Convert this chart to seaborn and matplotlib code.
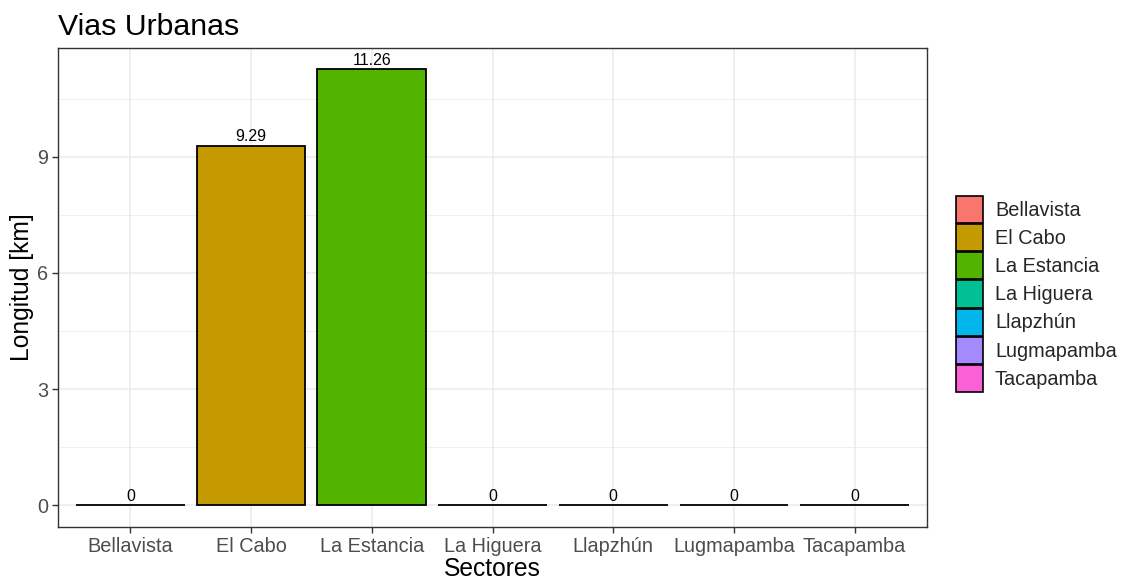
import matplotlib
matplotlib.use("Agg")
import matplotlib.pyplot as plt
from matplotlib.patches import Patch
from matplotlib.ticker import MultipleLocator
import pandas as pd
import seaborn as sns

# Datos
sectores = ["Bellavista", "El Cabo", "La Estancia", "La Higuera",
            "Llapzhún", "Lugmapamba", "Tacapamba"]
longitud = [0, 9.29, 11.26, 0, 0, 0, 0]
colores = ["#F8766D", "#C49A00", "#53B400", "#00C094",
           "#00B6EB", "#A58AFF", "#FB61D7"]

df = pd.DataFrame({"Sectores": sectores, "Longitud": longitud})

sns.set_style("white")
plt.rcParams["font.family"] = ["Liberation Sans", "DejaVu Sans"]

fig = plt.figure(figsize=(11.26, 5.81), dpi=100)
ax = fig.add_axes([0.0515, 0.093, 0.7718, 0.825])

sns.barplot(data=df, x="Sectores", y="Longitud", hue="Sectores",
            palette=colores, saturation=1, edgecolor="black", linewidth=1.3,
            width=0.9, legend=False, ax=ax, zorder=3)

for cont in ax.containers:
    ax.bar_label(cont, labels=[f"{v:g}" for v in cont.datavalues],
                 padding=1, fontsize=11.5, color="black")

# escalas estilo ggplot
ymax = max(longitud)
ax.set_ylim(-0.05 * ymax, ymax * 1.05)
ax.set_xlim(-0.6, len(sectores) - 0.4)
ax.yaxis.set_major_locator(MultipleLocator(3))
ax.yaxis.set_minor_locator(MultipleLocator(1.5))

ax.grid(True, which="major", color="#EBEBEB", linewidth=1.1, zorder=0)
ax.grid(True, which="minor", axis="y", color="#EBEBEB", linewidth=0.55, zorder=0)
ax.set_axisbelow(True)

for s in ax.spines.values():
    s.set_color("#333333")
    s.set_linewidth(1.0)

ax.tick_params(axis="both", which="major", length=4, width=1, color="#333333",
               labelsize=14.3, labelcolor="#4D4D4D", pad=3,
               bottom=True, left=True)
ax.tick_params(axis="y", which="minor", length=0)

ax.set_xlabel("Sectores", fontsize=17.7, color="black", labelpad=1)
ax.set_ylabel("Longitud [km]", fontsize=17.7, color="black", labelpad=2)
ax.set_title("Vias Urbanas", fontsize=21.8, color="black", loc="left",
             x=0, pad=9)

handles = [Patch(facecolor=c, edgecolor="black", linewidth=1.2, label=s)
           for s, c in zip(sectores, colores)]
fig.legend(handles=handles, loc="center left", bbox_to_anchor=(0.849, 0.494),
           frameon=False, fontsize=14.3, handlelength=1.36, handleheight=1.72,
           handletextpad=0.6, labelspacing=0.05, borderaxespad=0,
           borderpad=0)

fig.savefig("out.png", dpi=100)
